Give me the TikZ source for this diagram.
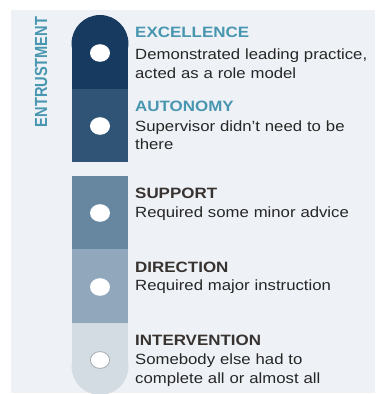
\documentclass[tikz,border=0pt]{standalone}
\usepackage{fontspec}
\setmainfont{Liberation Sans}
\newfontfamily\widefont{Liberation Sans}[FakeStretch=1.13]
\definecolor{bgc}{HTML}{EEF2F6}
\definecolor{cA}{HTML}{173A60}
\definecolor{cB}{HTML}{2F5476}
\definecolor{cC}{HTML}{6787A1}
\definecolor{cD}{HTML}{91A7BB}
\definecolor{cE}{HTML}{D3DBE3}
\definecolor{teal}{HTML}{4896B0}
\definecolor{darkt}{HTML}{383331}
\definecolor{desct}{HTML}{262626}
\definecolor{ringc}{HTML}{A3ABB3}
\begin{document}
\begin{tikzpicture}[x=1pt,y=-1pt,
  ttl/.style={anchor=base west, inner sep=0pt, font=\widefont\fontsize{15}{18}\selectfont\bfseries},
  dsc/.style={anchor=base west, inner sep=0pt, text width=240pt, align=left, text=desct,
    font=\widefont\fontsize{14.8}{18.8}\selectfont},
  dot/.style={fill=white, x radius=10, y radius=8.8}]
\useasboundingbox (0,0) rectangle (377,394);
\fill[bgc] (11,10) rectangle (375,393);
\begin{scope}
\clip (11,10) rectangle (375,393);
\fill[cA] (100,43.4) circle (28.4);
\fill[cA] (71.6,43.4) rectangle (128.4,89);
\fill[cB] (71.6,89) rectangle (128.4,162);
\fill[cC] (71.6,175.5) rectangle (128.4,249);
\fill[cD] (71.6,249) rectangle (128.4,323);
\fill[cE] (71.6,323) rectangle (128.4,366.6);
\fill[cE] (100,366.6) circle (28.4);
\end{scope}
\fill[dot] (100,53) circle [x radius=10, y radius=8.8];
\fill[dot] (100,126) circle [x radius=10, y radius=8.8];
\fill[dot] (100,213) circle [x radius=10, y radius=8.8];
\fill[dot] (100,287) circle [x radius=10, y radius=8.8];
\filldraw[fill=white, draw=ringc, line width=0.8pt] (100,360) circle [x radius=9.6, y radius=8.4];
\node[rotate=90, inner sep=0pt, text=teal, font=\fontsize{14.6}{16}\selectfont\bfseries] (ent) at (41,72) {\scalebox{1}[1.2]{ENTRUSTMENT}};
\node[ttl, text=teal] (t1) at (135,37.3) {EXCELLENCE};
\node[dsc] (d1) at (135,59.3) {Demonstrated leading practice,\\acted as a role model};
\node[ttl, text=teal] (t2) at (135,111) {AUTONOMY};
\node[dsc] (d2) at (135,131) {Supervisor didn’t need to be\\there};
\node[ttl, text=darkt] (t3) at (135,198) {SUPPORT};
\node[dsc] (d3) at (135,217) {Required some minor advice};
\node[ttl, text=darkt] (t4) at (135,272) {DIRECTION};
\node[dsc] (d4) at (135,290.5) {Required major instruction};
\node[ttl, text=darkt] (t5) at (135,345) {INTERVENTION};
\node[dsc] (d5) at (135,364.5) {Somebody else had to\\complete all or almost all};
\end{tikzpicture}
\end{document}
